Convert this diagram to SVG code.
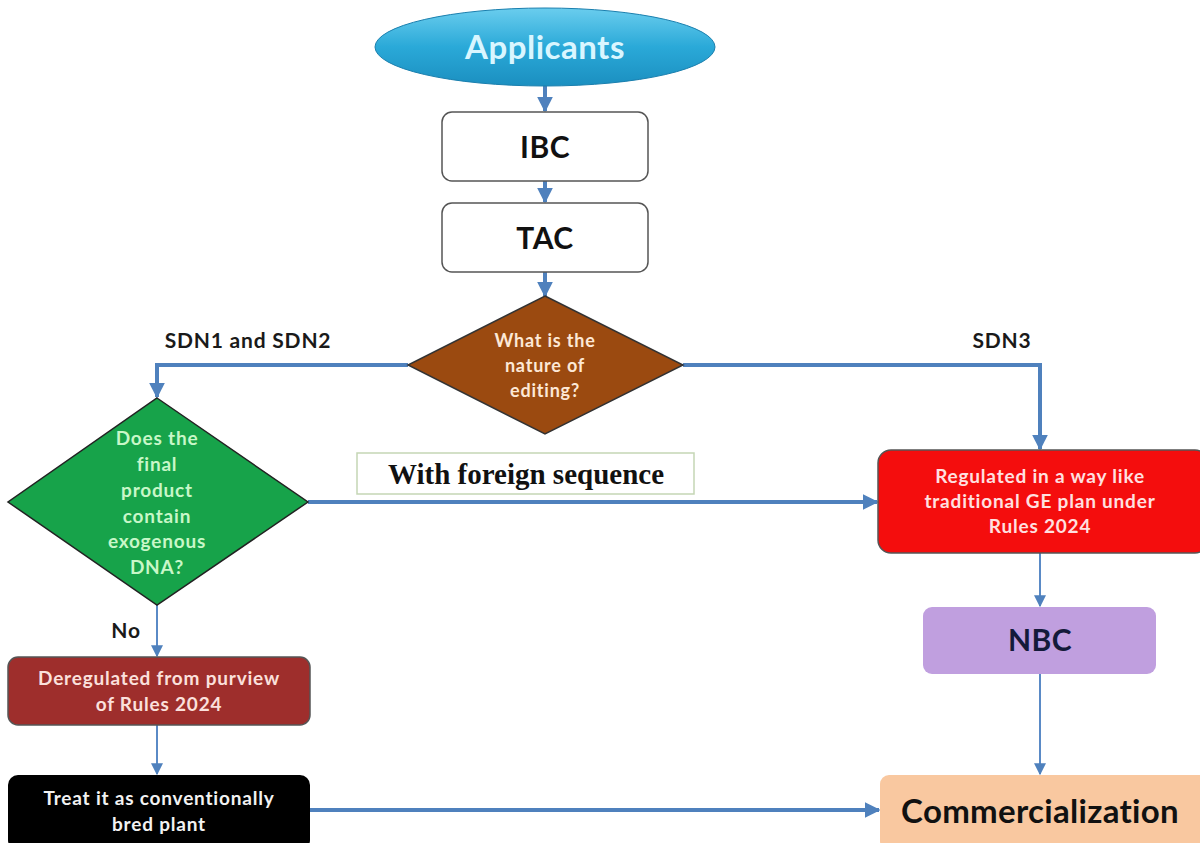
<svg xmlns="http://www.w3.org/2000/svg" width="1200" height="843" viewBox="0 0 1200 843">
<defs>
<linearGradient id="gApp" x1="0" y1="0" x2="0" y2="1">
<stop offset="0" stop-color="#6acdee"/>
<stop offset="0.5" stop-color="#2aa9d8"/>
<stop offset="1" stop-color="#1b8fc0"/>
</linearGradient>
<marker id="ah" viewBox="0 0 10 10" refX="9" refY="5" markerWidth="4" markerHeight="4" orient="auto" markerUnits="strokeWidth">
<path d="M0,0 L10,5 L0,10 z" fill="#4f81bd"/>
</marker>
<marker id="ahs" viewBox="0 0 10 10" refX="9" refY="5" markerWidth="6" markerHeight="6" orient="auto" markerUnits="strokeWidth">
<path d="M0,0 L10,5 L0,10 z" fill="#4f81bd"/>
</marker>
</defs>
<style>
text{font-family:Lato,"Open Sans","Liberation Sans",sans-serif;font-weight:bold;text-anchor:middle}
.thick{fill:none;stroke:#4f81bd;stroke-width:4}
.thin{fill:none;stroke:#5a8ac6;stroke-width:2}
.box{stroke:#555;stroke-width:1.5}
.lbl{font-size:21px;fill:#1a1a1a;letter-spacing:0.8px}
.t{font-size:19px;letter-spacing:0.8px}
.big{font-size:30px;letter-spacing:0.5px}
</style>
<rect width="1200" height="843" fill="#fff"/>
<g id="connectors">
<line class="thick" x1="545" y1="86" x2="545" y2="111" marker-end="url(#ah)"/>
<line class="thick" x1="545" y1="181" x2="545" y2="202" marker-end="url(#ah)"/>
<line class="thick" x1="545" y1="272" x2="545" y2="296" marker-end="url(#ah)"/>
<polyline class="thick" points="408,365 157,365 157,397" marker-end="url(#ah)"/>
<polyline class="thick" points="683,365 1040,365 1040,449" marker-end="url(#ah)"/>
<line class="thick" x1="308" y1="502" x2="877" y2="502" marker-end="url(#ah)"/>
<line class="thin" x1="1040" y1="553" x2="1040" y2="606" marker-end="url(#ahs)"/>
<line class="thin" x1="1040" y1="674" x2="1040" y2="774" marker-end="url(#ahs)"/>
<line class="thin" x1="157" y1="605" x2="157" y2="656" marker-end="url(#ahs)"/>
<line class="thin" x1="157" y1="725" x2="157" y2="774" marker-end="url(#ahs)"/>
<line class="thick" x1="310" y1="810" x2="879" y2="810" marker-end="url(#ah)"/>
</g>
<g id="labels">
<text class="lbl" x="248" y="348">SDN1 and SDN2</text>
<text class="lbl" x="1002" y="348">SDN3</text>
<text class="lbl" x="126" y="638">No</text>
</g>
<g id="applicants">
<ellipse cx="545" cy="47" rx="170" ry="39" fill="url(#gApp)" stroke="#1a7fae" stroke-width="1"/>
<text x="545" y="59" font-size="33" letter-spacing="0.5" fill="#d9f6ff">Applicants</text>
</g>
<g id="ibc">
<rect class="box" x="442" y="112" width="206" height="69" rx="10" fill="#fff"/>
<text class="big" x="545" y="158" fill="#111">IBC</text>
</g>
<g id="tac">
<rect class="box" x="442" y="203" width="206" height="69" rx="10" fill="#fff"/>
<text class="big" x="545" y="249" fill="#111">TAC</text>
</g>
<g id="nature">
<polygon points="545,296 683,365 545,434 408,365" fill="#9b4a10" stroke="#333" stroke-width="1.5"/>
<g class="t" fill="#fde8d6" font-size="18" style="font-size:18px">
<text x="545" y="347">What is the</text>
<text x="545" y="372">nature of</text>
<text x="545" y="397">editing?</text>
</g>
</g>
<g id="exogenous">
<polygon points="157,398 308,502 157,605 8,502" fill="#17a34a" stroke="#222" stroke-width="1.5"/>
<g class="t" fill="#c8f7c8">
<text x="157" y="445">Does the</text>
<text x="157" y="471">final</text>
<text x="157" y="497">product</text>
<text x="157" y="523">contain</text>
<text x="157" y="548">exogenous</text>
<text x="157" y="574">DNA?</text>
</g>
</g>
<g id="foreign">
<rect x="357" y="453" width="337" height="41" fill="#fff" stroke="#c5d6b5" stroke-width="1.5"/>
<text x="526" y="484" style="font-family:'Liberation Serif',serif;font-size:29px" fill="#111">With foreign sequence</text>
</g>
<g id="regulated">
<rect class="box" x="878" y="450" width="330" height="103" rx="13" fill="#f40d0d"/>
<g class="t" fill="#ffe0e0">
<text x="1040" y="483">Regulated in a way like</text>
<text x="1040" y="508">traditional  GE plan under</text>
<text x="1040" y="533">Rules  2024</text>
</g>
</g>
<g id="nbc">
<rect x="923" y="607" width="233" height="67" rx="9" fill="#c09fdf"/>
<text class="big" x="1040" y="651" fill="#141a3a">NBC</text>
</g>
<g id="commercialization">
<rect x="880" y="775" width="330" height="75" rx="9" fill="#f9c8a0"/>
<text x="1040" y="823" font-size="33" letter-spacing="0.3" fill="#111">Commercialization</text>
</g>
<g id="deregulated">
<rect class="box" x="8" y="657" width="302" height="68" rx="10" fill="#9e2e2c"/>
<g class="t" fill="#fbe0dc">
<text x="159" y="685">Deregulated from purview</text>
<text x="159" y="711">of  Rules 2024</text>
</g>
</g>
<g id="treat">
<rect x="8" y="775" width="302" height="75" rx="10" fill="#000"/>
<g class="t" fill="#f2f2f2">
<text x="159" y="805">Treat it as conventionally</text>
<text x="159" y="831">bred plant</text>
</g>
</g>
</svg>
